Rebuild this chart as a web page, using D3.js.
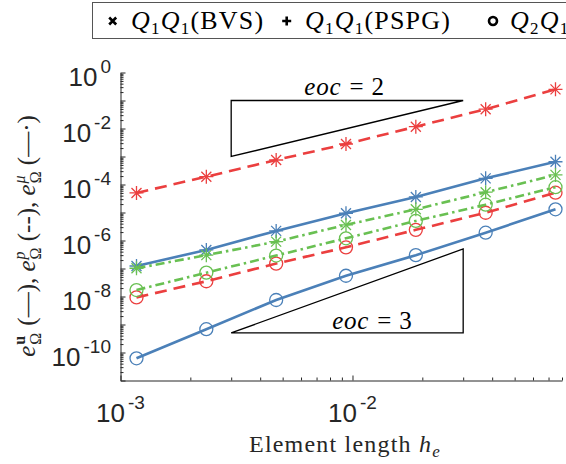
<!DOCTYPE html>
<html>
<head>
<meta charset="utf-8">
<script src="https://cdn.jsdelivr.net/npm/d3@7"></script>
<style>
  body { margin: 0; background: #fff; }
  svg { display: block; }
</style>
</head>
<body>
<svg id="chart" width="566" height="464"></svg>
<script>
// Mesh sizes (element length h_e) for the refinement study
const hValues = [1.172e-3, 2.344e-3, 4.688e-3, 9.375e-3, 1.875e-2, 3.75e-2, 7.5e-2];

// Q1Q1 errors (BVS and PSPG give the same values)
const velQ1Q1  = [1.23e-7, 4.6e-7, 2.2e-6, 9.4e-6, 3.6e-5, 1.66e-4, 6.5e-4];
const presQ1Q1 = [5.0e-5, 1.9e-4, 7.5e-4, 2.8e-3, 1.16e-2, 4.9e-2, 2.5e-1];
const muQ1Q1   = [1.02e-7, 3.0e-7, 9.1e-7, 3.6e-6, 1.3e-5, 5.3e-5, 2.2e-4];

// Q2Q1 errors
const velQ2Q1  = [6.2e-11, 6.8e-10, 7.5e-9, 5.5e-8, 3.0e-7, 1.9e-6, 1.3e-5];
const presQ2Q1 = [9.3e-9, 3.5e-8, 1.5e-7, 5.7e-7, 2.4e-6, 9.8e-6, 5.1e-5];
const muQ2Q1   = [1.7e-8, 7.1e-8, 2.9e-7, 1.2e-6, 5.0e-6, 1.9e-5, 8.0e-5];

// Slope triangles: [h0, h1] and [e0, e1] corners, order label
const eoc2Tri = { h: [3e-3, 3e-2], e: [1e-3, 1e-1], label: "2" };
const eoc3Tri = { h: [3e-3, 3e-2], e: [5e-10, 5e-7], label: "3" };

// Axis tick exponents
const xTickExponents = [-3, -2];
const yTickExponents = [0, -2, -4, -6, -8, -10];
const yDecades = [-11, -10, -9, -8, -7, -6, -5, -4, -3, -2, -1, 0];

const legendLabels = ["(BVS)", "(PSPG)", ""];

const colors = { vel: "#4b80b8", pres: "#eb3f3f", mu: "#69c052" };
const dashes = { vel: null, pres: "12,7", mu: "9,4,2.5,4" };
const axisColor = "#262626";

const svg = d3.select("#chart");
svg.append("rect").attr("width", 566).attr("height", 464).attr("fill", "#fff");

const x = d3.scaleLog().domain([1e-3, 0.08]).range([120.5, 562]);
const y = d3.scaleLog().domain([1e-11, 1]).range([380.5, 72.5]);

// ---------- axes ----------
const xMinor = [];
[-3, -2].forEach(e => d3.range(2, 10).forEach(k => {
  const v = k * Math.pow(10, e);
  if (v <= 0.08 + 1e-9) xMinor.push(v);
}));
const yMinor = [];
yDecades.slice(0, -1).forEach(e => d3.range(2, 10).forEach(k => yMinor.push(k * Math.pow(10, e))));

function styleAxis(g) {
  g.selectAll("path,line").attr("stroke", axisColor).attr("stroke-width", 1);
  g.selectAll("text").remove();
}

svg.append("g").attr("transform", "translate(0,380.5)")
  .call(d3.axisBottom(x).tickValues(xTickExponents.map(e => Math.pow(10, e)))
    .tickSizeInner(-5).tickSizeOuter(0).tickFormat(""))
  .call(styleAxis);
svg.append("g").attr("transform", "translate(0,380.5)")
  .call(d3.axisBottom(x).tickValues(xMinor).tickSizeInner(-3).tickSizeOuter(0).tickFormat(""))
  .call(styleAxis).call(g => g.select(".domain").remove());

svg.append("g").attr("transform", "translate(120.5,0)")
  .call(d3.axisLeft(y).tickValues(yDecades.map(e => Math.pow(10, e)))
    .tickSizeInner(-5).tickSizeOuter(0).tickFormat(""))
  .call(styleAxis);
svg.append("g").attr("transform", "translate(120.5,0)")
  .call(d3.axisLeft(y).tickValues(yMinor).tickSizeInner(-3).tickSizeOuter(0).tickFormat(""))
  .call(styleAxis).call(g => g.select(".domain").remove());

// power-of-ten tick labels
const sans = "'Liberation Sans', Arial, Helvetica, sans-serif";
xTickExponents.forEach(e => {
  const t = svg.append("text")
    .attr("x", x(Math.pow(10, e))).attr("y", 421.5)
    .attr("text-anchor", "middle").attr("font-family", sans).attr("fill", axisColor);
  t.append("tspan").attr("font-size", 26).text("10");
  t.append("tspan").attr("font-size", 19).attr("dx", 3).attr("dy", -12.5).text(String(e));
});
yTickExponents.forEach(e => {
  const t = svg.append("text")
    .attr("x", 111).attr("y", y(Math.pow(10, e)) + 13)
    .attr("text-anchor", "end").attr("font-family", sans).attr("fill", axisColor);
  t.append("tspan").attr("font-size", 26).text("10");
  t.append("tspan").attr("font-size", 19).attr("dx", 3).attr("dy", -12.5).text(String(e));
});

// ---------- axis titles ----------
const serif = "'Liberation Serif', 'Times New Roman', serif";
const xt = svg.append("text").attr("x", 345).attr("y", 452)
  .attr("text-anchor", "middle").attr("font-family", serif).attr("font-size", 24)
  .attr("fill", axisColor).attr("letter-spacing", 1.2);
xt.append("tspan").text("Element length ");
xt.append("tspan").attr("font-style", "italic").text("h");
xt.append("tspan").attr("font-style", "italic").attr("font-size", 17).attr("dy", 5).text("e");

// y title: e_Ω^u (—), e_Ω^p (--), e_Ω^μ (—·)
const yt = svg.append("text")
  .attr("transform", "translate(35,236) rotate(-90)")
  .attr("text-anchor", "middle").attr("font-family", serif).attr("font-size", 25)
  .attr("fill", axisColor);
function errSym(sup, supStyle, after) {
  yt.append("tspan").attr("font-style", "italic").text("e");
  yt.append("tspan").attr("font-size", 16).attr("dy", 6).attr("dx", 1).text("Ω");
  const s = yt.append("tspan").attr("font-size", 16).attr("dy", -16).attr("dx", -12).text(sup);
  if (supStyle === "bold") s.attr("font-weight", "bold"); else s.attr("font-style", "italic");
  yt.append("tspan").attr("dy", 10).attr("dx", 4).text(after);
}
errSym("u", "bold", " (—), ");
errSym("p", "italic", " (--), ");
errSym("μ", "italic", " (—·)");

// ---------- data series ----------
const line = d3.line().x((d, i) => x(hValues[i])).y(d => y(d));
const plotG = svg.append("g");

const seriesList = [
  { vals: velQ1Q1, key: "vel", marker: "star" },
  { vals: presQ1Q1, key: "pres", marker: "star" },
  { vals: muQ1Q1, key: "mu", marker: "star" },
  { vals: velQ2Q1, key: "vel", marker: "circle" },
  { vals: presQ2Q1, key: "pres", marker: "circle" },
  { vals: muQ2Q1, key: "mu", marker: "circle" }
];

const plusPath = "M-7,0H7M0,-7V7";
const crossPath = "M-5,-5L5,5M-5,5L5,-5";

seriesList.forEach(s => {
  plotG.append("path").datum(s.vals)
    .attr("d", line).attr("fill", "none")
    .attr("stroke", colors[s.key]).attr("stroke-width", 2.6)
    .attr("stroke-dasharray", dashes[s.key]);
  const pts = plotG.append("g").selectAll("g").data(s.vals).join("g")
    .attr("transform", (d, i) => `translate(${x(hValues[i])},${y(d)})`);
  if (s.marker === "star") {
    // BVS (x) and PSPG (+) markers overlap
    pts.append("path").attr("d", crossPath).attr("stroke", colors[s.key]).attr("stroke-width", 1.3).attr("fill", "none");
    pts.append("path").attr("d", plusPath).attr("stroke", colors[s.key]).attr("stroke-width", 1.3).attr("fill", "none");
  } else {
    pts.append("circle").attr("r", 6.5).attr("stroke", colors[s.key]).attr("stroke-width", 1.3).attr("fill", "none");
  }
});

// ---------- slope triangles ----------
function eocLabel(g, cx, cy, order) {
  const t = g.append("text").attr("x", cx).attr("y", cy).attr("text-anchor", "middle")
    .attr("font-family", serif).attr("font-size", 25).attr("fill", "#000");
  t.append("tspan").attr("font-style", "italic").attr("letter-spacing", 0.8).text("eoc");
  t.append("tspan").attr("dx", 8).text("=");
  t.append("tspan").attr("dx", 8).text(order);
}
const triG = svg.append("g");
// eoc = 2 : right-angle at top-left
triG.append("path")
  .attr("d", `M${x(eoc2Tri.h[0])},${y(eoc2Tri.e[0])}L${x(eoc2Tri.h[0])},${y(eoc2Tri.e[1])}L${x(eoc2Tri.h[1])},${y(eoc2Tri.e[1])}Z`)
  .attr("fill", "none").attr("stroke", "#000").attr("stroke-width", 1.3);
eocLabel(triG, x(Math.sqrt(eoc2Tri.h[0] * eoc2Tri.h[1])) - 3, y(eoc2Tri.e[1]) - 6, eoc2Tri.label);
// eoc = 3 : right-angle at bottom-right
triG.append("path")
  .attr("d", `M${x(eoc3Tri.h[0])},${y(eoc3Tri.e[0])}L${x(eoc3Tri.h[1])},${y(eoc3Tri.e[0])}L${x(eoc3Tri.h[1])},${y(eoc3Tri.e[1])}Z`)
  .attr("fill", "none").attr("stroke", "#000").attr("stroke-width", 1.3);
eocLabel(triG, 372, y(eoc3Tri.e[0]) - 4, eoc3Tri.label);

// ---------- legend ----------
const lg = svg.append("g");
lg.append("rect").attr("x", 92.5).attr("y", 2.5).attr("width", 520).attr("height", 36)
  .attr("fill", "#fff").attr("stroke", "#555").attr("stroke-width", 1);
const legendItems = [
  { mx: 112.7, tx: 131, sub2: "1", tail: legendLabels[0], marker: "x" },
  { mx: 286.7, tx: 305, sub2: "1", tail: legendLabels[1], marker: "+" },
  { mx: 493, tx: 510, sub2: "1", tail: legendLabels[2], marker: "o" }
];
const firstSubs = ["1", "1", "2"];
legendItems.forEach((it, i) => {
  const m = lg.append("g").attr("transform", `translate(${it.mx},21)`);
  if (it.marker === "x") m.append("path").attr("d", "M-3.5,-3.5L3.5,3.5M-3.5,3.5L3.5,-3.5");
  else if (it.marker === "+") m.append("path").attr("d", "M-4.5,0H4.5M0,-4.5V4.5");
  else m.append("circle").attr("r", 4);
  m.selectAll("path,circle").attr("stroke", "#000").attr("stroke-width", 2.6).attr("fill", "none");
  const t = lg.append("text").attr("x", it.tx).attr("y", 28.5)
    .attr("font-family", serif).attr("font-size", 26).attr("fill", "#000").attr("letter-spacing", 1.2);
  t.append("tspan").attr("font-style", "italic").text("Q");
  t.append("tspan").attr("font-size", 17).attr("dy", 5).text(firstSubs[i]);
  t.append("tspan").attr("font-style", "italic").attr("dy", -5).text("Q");
  t.append("tspan").attr("font-size", 17).attr("dy", 5).text(it.sub2);
  if (it.tail) t.append("tspan").attr("dy", -5).text(it.tail);
});
</script>
</body>
</html>
